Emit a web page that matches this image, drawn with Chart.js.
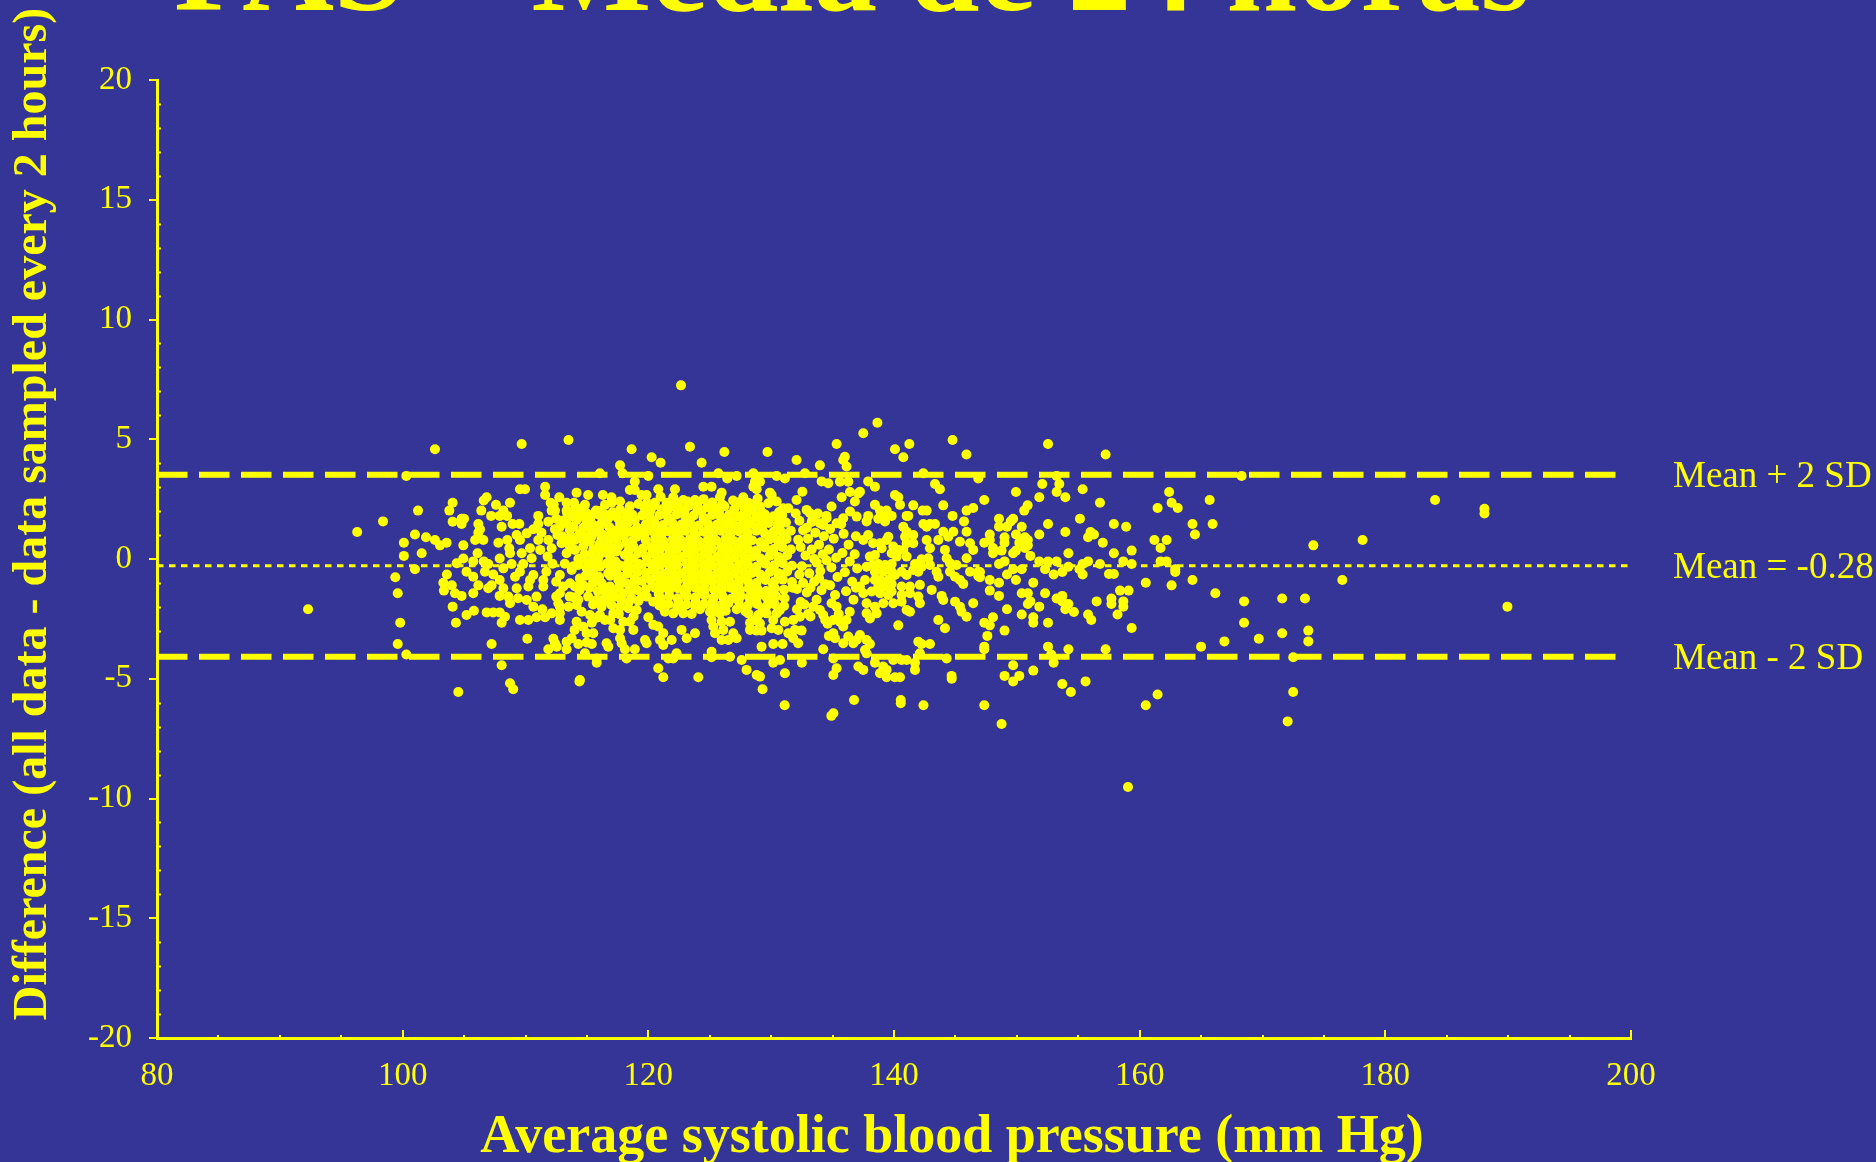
<!DOCTYPE html>
<html>
<head>
<meta charset="utf-8">
<title>PAS - Média de 24 horas</title>
<script src="https://cdn.jsdelivr.net/npm/chart.js@4.4.1/dist/chart.umd.min.js"></script>
<style>
  html, body { margin: 0; padding: 0; background: #353597; overflow: hidden; }
  #chart { display: block; }
</style>
</head>
<body>
<canvas id="chart" width="1876" height="1162"></canvas>
<script>
const YELLOW = '#ffff00';
const SERIF = '"Liberation Serif", "Times New Roman", serif';

const chartTitle = 'PAS – Média de 24 horas';
const xTitle = 'Average systolic blood pressure (mm Hg)';
const yTitle = 'Difference (all data - data sampled every 2 hours)';

const xRange = [80, 200];
const yRange = [-20, 20];
const meanDiff = -0.28;
const sdDiff = 1.9;

// points, [average, difference]
const leftTailPoints = [
  [92.3,-2.1],[96.3,1.13],[98.4,1.57],[100.3,3.47],[100.1,0.68],[101.0,1.02],[100.1,0.13],
  [99.4,-0.76],[99.6,-1.43],[99.8,-2.66],[99.6,-3.55],[100.3,-3.99],[101.0,-0.43],[101.25,2.02]
];

const strayPoints = [
  [122.66,7.25],[137.5,5.25],[138.65,5.69],
  [104.53,-5.55],[108.74,-5.19],[109.0,-5.44],[114.39,-5.11],[129.3,-5.44],[131.1,-6.11],
  [135.07,-6.44],[134.9,-6.55],[136.75,-5.89],[140.55,-5.89],[140.55,-6.02],[142.4,-6.11],
  [144.7,-5.0],[132.5,-4.33],[134.4,-2.55],[134.7,-3.21]
];

const clusterWestPoints = [
  [102.63,4.58],[109.69,4.8],[113.5,4.97],[118.64,4.58],[117.7,3.91],[117.9,3.58],[116.06,3.58],
  [118.9,3.23],[118.5,2.88],[118.9,2.88],[109.55,2.91],[109.96,2.91],[111.6,3.02],[111.6,2.67],
  [114.16,2.77],[115.1,2.67],[116.3,2.67],[117.0,2.58],[117.7,2.4],[112.75,2.58],[112.05,2.35],
  [113.35,2.35],[113.95,2.35],[106.84,2.58],[106.6,2.44],[104.07,2.35],[103.8,2.02],[107.6,2.26],
  [108.74,2.35],[108.2,2.02],[106.4,2.02],[107.2,1.8],[107.9,1.8],[108.5,1.8],[104.8,1.68],
  [105.0,1.68],[104.07,1.56],[104.8,1.46],[106.16,1.46],[106.3,1.24],[106.16,1.1],[108.06,1.35],
  [108.95,1.46],[109.5,1.46],[111.04,1.8],[111.04,1.46],[111.86,1.56],[112.5,1.68],[112.13,2.02],
  [112.4,2.02],[112.3,2.26],[113.35,2.02],[113.9,2.02],[114.84,2.26],[115.74,2.02],[116.47,2.26],
  [117.0,2.35],[117.7,2.05],[118.4,1.98],[114.98,1.91],[114.98,1.56],[114.16,1.63],[113.35,1.49],
  [112.8,1.35],[112.4,1.24],[116.74,1.7],[116.2,1.49],[115.52,1.42],[117.7,1.49],[118.4,1.56],
  [118.9,1.63],[101.9,0.91],[102.63,0.79],[103.04,0.57],[103.58,0.68],[101.55,0.24],[104.94,0.57],
  [105.9,0.79],[106.57,0.79],[107.79,0.68],[108.52,0.79],[106.1,0.24],[105.75,-0.1],[104.94,0.02],
  [104.4,-0.18],[106.6,-0.1],[106.97,-0.21],[107.9,0.02],[108.74,0.24],[108.68,0.45],[109.28,1.0],
  [109.55,0.79],[110.1,1.07],[110.64,1.24],[110.37,0.45],[111.04,0.79],[111.86,0.79],[111.2,0.38],
  [112.13,0.45],[112.94,0.66],[113.5,0.79],[109.69,0.24],[110.5,0.03],[109.82,-0.21],[108.87,-0.21],
  [108.2,-0.39],[103.6,-0.65],[103.31,-0.99],[104.0,-1.1],[104.26,-1.43],[104.8,-1.54],[103.36,-1.32],
  [105.2,-0.53],[105.75,-0.74],[106.7,-0.53],[106.16,-1.1],[107.38,-0.65],[107.24,-1.1],[107.9,-0.88],
  [108.2,-1.22],[106.97,-1.22],[105.75,-1.43],[107.9,-1.54],[108.6,-1.57],[108.74,-1.85],[109.4,-1.64],
  [109.28,-1.22],[110.23,-1.15],[110.37,-0.88],[110.64,-0.67],[111.45,-0.88],[111.45,-1.15],
  [109.55,-0.53],[109.15,-0.74],[104.07,-1.99],[105.2,-2.34],[105.8,-2.16],[106.84,-2.23],
  [107.38,-2.23],[107.9,-2.23],[108.06,-2.66],[108.33,-2.41],[104.34,-2.66],[109.55,-2.55],
  [110.23,-2.55],[110.9,-2.43],[111.6,-2.43],[112.13,-2.27],[112.8,-2.27],[112.8,-2.55],[111.37,-2.1],
  [110.64,-1.99],[110.1,-1.71],[110.9,-1.57],[107.24,-3.55],[110.15,-3.33],[108.06,-4.44],
  [112.27,-3.33],[112.4,-3.52],[111.86,-3.77],[112.54,-3.66],[113.35,-3.45],[113.76,-3.31],
  [113.35,-3.77],[114.3,-3.55],[114.98,-3.49],[115.4,-3.55],[114.16,-2.62],[114.7,-2.83],[115.4,-2.66],
  [114.0,-2.96],[114.98,-3.1],[115.52,-3.1],[115.8,-4.15],[115.8,-4.33],[114.84,-3.94],[114.43,-5.05],
  [116.6,-3.52],[116.74,-3.66],[117.7,-3.31],[117.83,-3.52],[118.1,-3.77],[118.9,-3.77],[117.7,-2.96],
  [117.15,-2.89],[116.47,-2.55],[117.15,-2.27],[117.96,-2.62],[118.5,-2.62],[118.78,-2.96],
  [118.23,-4.15],[112.8,-1.43],[112.5,-1.57],[112.67,-1.85],[112.8,-1.99],[113.6,-1.57],[113.5,-1.99],
  [114.16,-1.92],[111.7,-0.53],[112.8,-0.67],[112.5,-0.95],[113.08,-1.15],[113.62,-1.01],
  [114.03,-1.15],[114.43,-0.81],[113.76,-0.46],[114.3,-0.25],[114.98,-0.39],[114.57,-0.04],
  [115.52,-0.53],[116.06,-0.32],[116.74,-0.6],[113.35,0.24],[114.03,0.38],[114.7,0.52],[115.52,0.38],
  [116.2,0.24],[116.88,0.1],[117.42,0.31],[118.1,0.17],[118.78,0.03],[113.62,1.21],[114.43,1.07],
  [114.98,0.93],[115.66,1.14],[116.34,1.0],[117.0,1.21],[117.83,1.28],[118.5,1.14],[119.05,0.93],
  [114.03,0.79],[115.25,0.72],[116.06,0.66],[116.74,0.72],[117.42,0.79],[118.23,0.66],[118.78,0.52],
  [115.52,-0.88],[116.2,-1.01],[116.88,-1.15],[117.56,-0.88],[118.23,-1.01],[118.9,-0.81],
  [116.6,-1.43],[117.28,-1.57],[117.96,-1.43],[118.64,-1.64],[119.05,-1.29],[115.1,-1.57],
  [115.8,-1.71],[116.2,-1.99],[117.0,-1.92],[117.7,-1.99],[118.37,-2.06],[119.05,-2.13],
  [114.57,-2.2],[115.25,-2.34],[116.06,-2.34],
  [113.8,1.78],[114.5,1.8],[115.3,1.74],[116.0,1.84],[117.5,1.72],[118.2,1.8],[119.1,1.3],
  [118.0,0.95],[116.9,0.95],[115.9,0.48],[117.6,0.55],[118.6,0.5],[113.6,0.55],[114.3,0.0],
  [115.2,-0.15],[115.9,0.0],[116.6,-0.2],[117.3,-0.1],[118.0,-0.3],[118.7,-0.4],[119.2,-0.2],
  [117.4,-0.55],[118.3,-0.6],[119.1,-0.55],[114.4,-1.3],[115.2,-1.2],[115.9,-1.35],[117.6,-1.2],
  [118.9,-1.0],[116.3,-1.7],[117.8,-1.7],[113.9,-1.6],[119.2,-1.75],[113.2,-0.2],[112.2,-0.2],
  [111.8,0.1],[112.6,1.0],[111.3,1.1],[113.0,1.6],[118.5,2.2],[119.2,2.3],[116.0,2.0],[114.4,2.1],
  [113.4,1.9],[114.1,1.95],[115.6,1.9],[116.4,1.88],[117.1,1.95],[118.7,1.85],
  [113.9,1.35],[114.7,1.3],[115.3,1.28],[116.0,1.3],[116.8,1.35],[117.4,1.2],[118.2,1.4],[118.9,1.2],
  [113.0,0.95],[113.7,0.95],[114.6,0.85],[115.4,0.95],[116.2,0.85],[117.3,0.98],[118.7,0.75],
  [114.8,0.2],[115.4,0.2],[116.5,0.4],[117.0,0.45],[118.4,0.35],[119.2,0.25],
  [113.9,-0.3],[115.6,-0.2],[117.0,-0.35],[117.6,-0.25],[118.4,-0.15],
  [114.9,-0.7],[116.0,-0.75],[116.9,-0.7],[117.8,-0.75],[119.0,-0.9],
  [114.7,-1.1],[115.5,-1.0],[116.5,-1.2],[117.2,-1.3],[118.5,-1.3],
  [115.5,-1.9],[116.7,-1.75],[118.4,-1.8],[114.3,-1.7],
  [115.8,-2.45],[117.6,-2.3],[118.8,-2.4],[116.9,-2.55]
];

const clusterCentrePoints = [
  [123.39,4.69],[120.27,4.25],[121.0,4.02],[126.19,4.47],[129.7,4.47],[124.34,4.02],[132.07,4.13],
  [133.97,3.91],[135.33,4.8],[135.87,4.13],[136.0,4.27],[136.14,3.86],[120.0,3.47],[125.7,3.58],
  [126.43,3.36],[127.19,3.47],[128.55,3.58],[128.68,3.23],[129.09,3.23],[130.45,3.47],[131.12,3.36],
  [132.75,3.58],[134.11,3.24],[134.65,3.16],[135.6,3.23],[136.28,3.23],[124.48,3.02],[125.15,3.02],
  [125.97,2.77],[125.83,2.58],[128.55,3.02],[128.82,2.91],[129.9,2.77],[130.04,2.67],[132.54,2.81],
  [132.07,2.46],[135.74,2.58],[136.42,2.8],[136.82,2.4],[122.17,2.91],[120.81,2.91],[119.86,2.67],
  [119.45,2.67],[120.54,2.35],[121.49,2.35],[122.03,2.58],[122.85,2.46],[123.8,2.46],[127.73,2.58],
  [128.14,2.35],[127.6,2.35],[129.09,2.19],[129.77,2.33],[130.45,2.4],[130.99,2.12],[131.4,2.12],
  [132.89,2.05],[133.16,1.91],[133.43,1.7],[133.97,1.49],[134.24,1.42],[134.51,1.7],[134.92,2.19],
  [135.33,1.49],[135.87,1.7],[136.42,1.98],[136.96,1.77],[137.1,2.74],
  [120.0,-2.43],[120.4,-2.75],[120.8,-2.82],[119.73,-3.38],[119.86,-3.52],[120.95,-3.38],[121.22,-3.1],
  [121.9,-3.38],[121.22,-3.59],[121.35,-2.2],[122.03,-2.27],[122.85,-2.27],[123.53,-2.3],[122.71,-2.96],
  [123.12,-3.31],[123.8,-3.1],[122.3,-3.94],[122.03,-4.15],[121.63,-4.15],[120.81,-4.56],[121.22,-4.94],
  [124.07,-4.94],[125.15,-3.87],[125.15,-4.1],[125.02,-2.2],[125.56,-2.2],[125.15,-2.55],[125.29,-2.82],
  [125.97,-2.62],[125.43,-3.1],[126.1,-2.96],[126.65,-2.62],[126.92,-3.1],[127.19,-3.31],[126.51,-3.38],
  [125.97,-3.38],[125.83,-2.27],[126.51,-1.85],[127.46,-1.99],[126.65,-4.08],[127.6,-4.22],[128.0,-4.63],
  [128.82,-4.84],[129.09,-4.91],[128.28,-2.96],[128.82,-2.99],[129.22,-2.99],[128.28,-2.66],[128.68,-2.55],
  [129.09,-2.69],[128.14,-2.27],[128.95,-2.34],[129.63,-2.27],[130.17,-2.55],[130.45,-2.27],[130.04,-2.89],
  [130.58,-2.96],[130.17,-3.55],[130.93,-3.55],[129.22,-3.66],[130.72,-4.22],[130.17,-4.33],[131.12,-4.77],
  [131.4,-3.1],[131.8,-3.31],[132.2,-3.52],[131.94,-2.96],[132.48,-2.99],[131.12,-2.62],[131.8,-2.55],
  [132.34,-2.41],[134.24,-3.77],[133.43,-1.99],[133.97,-2.13],[134.24,-2.34],[134.92,-1.85],[135.33,-1.99],
  [135.06,-2.55],[135.6,-2.62],[135.87,-2.82],[136.14,-2.55],[136.28,-3.24],[135.87,-3.52],[136.69,-3.52],
  [136.96,-3.38],[135.06,-3.1],[135.2,-3.31],[135.06,-4.15],[135.33,-4.56],[135.06,-4.84],[137.1,-4.49],
  [120.4,-1.78],[119.86,-1.57],[120.68,-0.67],[121.08,-1.22],[121.63,-0.88],
  [132.3,1.6],[132.6,1.2],[133.0,0.85],[132.4,0.5],[132.8,0.15],[132.5,-0.3],[133.1,-0.6],[132.6,-1.0],
  [132.9,-1.4],[132.4,-1.8],[133.6,1.1],[133.9,0.6],[134.2,0.2],[133.7,-0.15],[134.0,-0.5],[133.5,-0.95],
  [134.1,-1.3],[133.7,-1.7],[134.8,1.25],[135.1,0.85],[134.7,0.4],[135.3,0.05],[134.9,-0.35],[135.4,-0.75],
  [134.8,-1.1],[135.2,-1.5],[135.9,1.05],[136.3,0.6],[135.8,0.25],[136.4,-0.1],[136.0,-0.55],[136.6,-0.95],
  [136.1,-1.35],[136.7,-1.7],[136.9,0.95],[136.8,0.2],[137.0,-0.4],[136.9,-1.2],[133.3,1.55],[134.5,1.8],
  [135.7,1.45],[133.2,-2.4],[134.6,-2.7],[136.4,-2.2],[132.1,-2.1],[135.5,-2.3],
  [132.0,1.9],[132.9,1.3],[133.3,0.4],[132.2,0.8],[133.5,0.0],[132.3,-0.65],[133.2,-1.2],[133.9,-0.8],
  [132.7,-1.9],[134.4,-1.05],[133.8,1.9],[134.3,0.95],[132.1,-1.25],[133.0,-2.3],[134.5,-0.05]
];

// the solid heart of the cloud, where single dots can no longer be told apart
const clusterHeartPoints = [
  [124.5,2.5],[126.9,2.44],[128.9,2.52],[123.2,2.4],[121.0,2.6],
  [119.9,2.34],[121.7,2.3],[122.4,2.36],[124.0,2.3],[125.2,2.36],[126.0,2.28],[127.3,2.36],[128.6,2.3],
  [119.7,2.12],[120.4,2.2],[121.1,2.08],[121.9,2.18],[122.6,2.1],[123.3,2.22],[124.0,2.06],[124.8,2.16],
  [125.5,2.1],[126.2,2.2],[127.0,2.08],[127.8,2.14],[128.5,2.04],
  [120.15,2.0],[121.55,2.02],[122.95,2.0],[124.35,2.02],[125.75,1.98],[127.85,1.96],[129.25,1.94],[130.65,1.96],
  [119.5,1.82],[120.1,1.76],[120.9,1.84],[121.6,1.74],[122.3,1.86],[123.0,1.78],[123.7,1.82],[124.5,1.72],
  [125.2,1.84],[125.9,1.76],[126.6,1.86],[127.3,1.78],[128.0,1.82],[128.8,1.74],[129.5,1.86],[130.2,1.78],
  [130.9,1.84],
  [120.35,1.6],[121.75,1.62],[123.15,1.6],[124.55,1.62],[126.65,1.6],[128.05,1.68],[129.45,1.64],[130.85,1.66],
  [119.8,1.45],[120.5,1.52],[121.2,1.42],[121.95,1.5],[122.7,1.44],[123.4,1.52],[124.1,1.4],[124.85,1.48],
  [125.6,1.44],[126.3,1.52],[127.0,1.42],[127.7,1.5],[128.4,1.46],[129.1,1.4],[129.8,1.5],[130.5,1.44],
  [131.2,1.52],
  [120.85,1.26],[122.25,1.28],[123.65,1.26],[125.05,1.28],[126.45,1.26],[127.85,1.34],[129.25,1.3],[130.65,1.32],
  [119.5,1.12],[120.2,1.18],[120.9,1.08],[121.6,1.16],[122.3,1.1],[123.0,1.18],[123.75,1.06],[124.5,1.14],
  [125.2,1.1],[125.9,1.18],[126.65,1.08],[127.35,1.16],[128.1,1.1],[128.8,1.18],[129.5,1.06],[130.2,1.14],
  [130.9,1.1],[131.6,1.18],
  [119.65,0.96],[121.05,0.98],[122.45,1.0],[123.85,0.96],[125.25,0.98],[126.65,0.96],[128.05,0.92],[130.15,0.98],
  [119.8,0.78],[120.55,0.84],[121.25,0.74],[122.0,0.82],[122.7,0.76],[123.4,0.84],[124.15,0.72],[124.85,0.8],
  [125.55,0.76],[126.3,0.84],[127.0,0.74],[127.7,0.82],[128.45,0.78],[129.15,0.7],[129.85,0.82],[130.55,0.76],
  [131.25,0.84],
  [120.85,0.58],[122.25,0.6],[123.65,0.58],[125.05,0.6],[126.45,0.58],[127.85,0.66],[129.25,0.62],[130.65,0.64],
  [119.55,0.44],[120.25,0.5],[120.95,0.4],[121.65,0.48],[122.35,0.42],[123.05,0.5],[123.8,0.38],[124.5,0.46],
  [125.2,0.42],[125.95,0.5],[126.65,0.4],[127.35,0.48],[128.1,0.44],[128.8,0.36],[129.5,0.48],[130.2,0.42],
  [130.9,0.5],[131.6,0.4],
  [120.35,0.24],[121.75,0.26],[123.15,0.24],[124.55,0.26],[125.95,0.24],[127.35,0.32],[128.75,0.28],[130.15,0.3],
  [119.85,0.1],[120.6,0.16],[121.3,0.06],[122.0,0.14],[122.7,0.08],[123.45,0.16],[124.15,0.04],[124.85,0.12],
  [125.6,0.08],[126.3,0.16],[127.0,0.06],[127.75,0.14],[128.45,0.1],[129.15,0.02],[129.9,0.14],[130.6,0.08],
  [131.3,0.16],
  [120.85,-0.1],[122.25,-0.08],[123.65,-0.1],[125.05,-0.08],[126.45,-0.1],[127.85,-0.02],[129.25,-0.06],[130.65,-0.04],
  [119.5,-0.24],[120.2,-0.18],[120.95,-0.28],[121.65,-0.2],[122.35,-0.26],[123.1,-0.18],[123.8,-0.3],
  [124.5,-0.22],[125.25,-0.26],[125.95,-0.18],[126.65,-0.28],[127.4,-0.2],[128.1,-0.24],[128.8,-0.32],
  [129.55,-0.2],[130.25,-0.26],[130.95,-0.18],[131.7,-0.28],
  [120.35,-0.44],[121.75,-0.42],[123.15,-0.44],[124.55,-0.42],[125.95,-0.44],[127.35,-0.36],[128.75,-0.4],[130.15,-0.38],
  [119.8,-0.58],[120.55,-0.52],[121.3,-0.62],[122.0,-0.54],[122.7,-0.6],[123.45,-0.52],[124.15,-0.64],
  [124.85,-0.56],[125.6,-0.6],[126.3,-0.52],[127.0,-0.62],[127.75,-0.54],[128.45,-0.58],[129.15,-0.66],
  [129.9,-0.54],[130.6,-0.6],[131.3,-0.52],
  [120.85,-0.78],[122.25,-0.76],[123.65,-0.78],[125.05,-0.76],[126.45,-0.78],[127.85,-0.7],[129.25,-0.74],[130.65,-0.72],
  [119.5,-0.92],[120.2,-0.86],[121.0,-0.96],[122.35,-0.94],[123.1,-0.86],[123.8,-0.98],[124.5,-0.9],
  [125.25,-0.94],[125.95,-0.86],[126.65,-0.96],[127.4,-0.88],[128.1,-0.92],[128.8,-1.0],[129.55,-0.88],
  [130.25,-0.94],[130.95,-0.86],[131.7,-0.96],
  [120.35,-1.12],[121.75,-1.1],[123.15,-1.12],[124.55,-1.1],[125.95,-1.12],[127.35,-1.04],[128.75,-1.08],[130.15,-1.06],
  [119.8,-1.26],[120.55,-1.2],[121.7,-1.3],[122.4,-1.22],[123.1,-1.28],[123.85,-1.2],[124.55,-1.32],
  [125.3,-1.24],[126.0,-1.28],[126.7,-1.2],[127.45,-1.3],[128.15,-1.22],[128.9,-1.26],[129.6,-1.34],
  [130.3,-1.22],[131.05,-1.28],[131.75,-1.2],
  [120.85,-1.46],[122.95,-1.38],[124.35,-1.42],[125.75,-1.4],[127.15,-1.42],[128.55,-1.46],[129.95,-1.44],
  [119.5,-1.56],[120.95,-1.62],[121.7,-1.54],[122.4,-1.64],[123.15,-1.56],[123.85,-1.6],[124.6,-1.52],
  [125.3,-1.62],[126.05,-1.56],[126.75,-1.66],[127.5,-1.54],[128.2,-1.6],[128.95,-1.52],[129.65,-1.62],
  [130.4,-1.56],[131.1,-1.64],
  [121.05,-1.8],[122.45,-1.78],[123.85,-1.8],[125.25,-1.78],[127.35,-1.74],[128.75,-1.72],[130.15,-1.76],
  [120.9,-1.94],[121.65,-1.88],[122.35,-1.98],[123.1,-1.9],[123.8,-1.96],[124.55,-1.88],[125.25,-2.0],
  [125.95,-1.92],[128.1,-1.94],[128.85,-1.88],[129.6,-1.98],[130.3,-1.9],[131.05,-1.96],
  [121.3,-2.1],[122.7,-2.14],[124.2,-2.1],[126.3,-2.16],[127.2,-2.1],[127.9,-2.18],[129.3,-2.12],[130.7,-2.14]
];

const clusterEastPoints = [
  [140.08,4.58],[140.76,4.25],[141.25,4.8],[144.77,4.97],[145.9,4.36],[142.39,3.58],[146.86,3.36],
  [137.9,3.24],[138.45,3.02],[143.34,3.13],[143.74,2.91],[140.08,2.67],[140.35,2.58],[137.23,2.81],
  [138.45,2.26],[138.86,2.02],[139.4,2.02],[139.27,1.8],[139.81,1.8],[139.27,1.57],[138.72,1.68],
  [137.9,1.8],[137.77,1.57],[140.49,2.26],[141.57,2.24],[141.03,1.8],[141.16,1.8],[142.33,2.02],
  [142.66,2.02],[144.01,2.24],[142.39,1.46],[142.93,1.46],[143.34,1.46],[142.66,1.35],[144.77,1.8],
  [145.7,1.57],[145.91,2.02],[146.45,2.13],[140.76,1.35],[141.03,1.14],[140.9,0.93],[141.57,1.0],
  [141.57,0.66],[141.03,0.66],[140.76,0.38],[139.54,0.93],[139.4,0.79],[138.86,0.66],[138.3,0.66],
  [137.9,1.0],[137.5,0.79],[139.0,0.45],[139.94,0.52],[140.35,0.38],[139.81,0.24],[138.04,0.1],
  [138.45,0.17],[142.66,0.79],[142.93,0.45],[143.61,0.79],[144.01,1.14],[144.42,0.93],[144.83,1.14],
  [145.37,0.72],[145.91,1.14],[146.19,0.66],[146.45,0.38],[144.15,0.38],[144.29,0.03],[142.79,0.03],
  [142.25,-0.01],[141.71,-0.21],[142.25,-0.32],[141.98,-0.53],[141.57,-0.46],[142.93,-0.25],
  [143.47,-0.53],[143.61,-0.74],[144.56,-0.18],[145.1,-0.25],[144.56,-0.53],[144.97,-0.74],
  [145.37,-0.88],[145.64,-1.04],[145.91,0.03],[146.19,-0.53],[146.86,-0.53],[146.86,-0.71],
  [141.03,0.1],[140.22,0.1],[139.81,-0.21],[139.27,-0.25],[138.72,-0.21],[138.3,-0.25],[137.77,-0.32],
  [138.45,-0.53],[139.13,-0.53],[139.81,-0.53],[140.08,-0.67],[140.62,-0.53],[141.03,-0.67],
  [137.64,-0.88],[137.23,-1.15],[137.5,-1.43],[138.45,-0.88],[138.86,-0.88],[139.54,-0.88],
  [139.81,-1.04],[139.27,-1.15],[138.72,-1.15],[138.18,-1.36],[138.86,-1.43],[139.54,-1.5],
  [139.81,-1.36],[140.62,-1.15],[141.3,-1.15],[142.11,-1.08],[140.62,-1.5],[141.3,-1.43],
  [141.98,-1.57],[143.07,-1.29],[137.77,-1.85],[138.45,-1.99],[139.13,-1.85],[139.94,-1.85],
  [140.62,-1.78],[141.03,-2.13],[141.3,-2.2],[137.77,-2.27],[138.59,-2.27],[138.04,-2.48],
  [142.11,-1.85],[143.88,-1.54],[144.01,-1.71],[144.97,-1.78],[145.37,-1.99],[145.5,-2.2],
  [145.91,-2.41],[146.45,-1.85],[140.35,-2.77],[143.61,-2.55],[144.15,-2.89],[137.77,-3.38],
  [138.04,-3.55],[137.64,-3.8],[137.77,-3.94],[137.23,-3.17],[141.98,-3.45],[142.25,-3.55],
  [142.93,-3.55],[142.11,-3.94],[138.45,-4.33],[139.13,-4.49],[139.4,-4.63],[138.86,-4.77],
  [139.94,-4.22],[140.62,-4.22],[141.03,-4.22],[141.71,-4.33],[141.71,-4.63],[140.08,-4.94],
  [140.49,-4.94],[139.4,-4.94],[144.69,-4.88],[144.29,-4.15],[137.5,-4.63]
];

const rightTailPoints = [
  [152.54,4.8],[157.23,4.36],[168.3,3.47],[153.24,3.47],[153.46,3.13],[153.24,2.8],[153.95,2.58],
  [152.07,3.13],[151.83,2.58],[155.36,2.91],[156.77,2.35],[149.93,2.8],[150.88,2.24],[150.6,2.02],
  [147.35,2.46],[162.4,2.8],[162.6,2.35],[163.1,2.13],[161.46,2.13],[165.7,2.46],[164.3,1.46],
  [164.5,1.02],[165.94,1.46],[157.9,1.46],[158.9,1.35],[155.14,1.68],[152.54,1.46],[153.95,1.13],
  [151.83,1.02],[155.8,0.91],[156.28,1.02],[156.0,1.13],[157.0,0.68],[157.9,0.24],[159.35,0.35],
  [158.67,-0.1],[159.35,-0.21],[161.2,0.79],[162.2,0.79],[161.7,0.46],[161.7,-0.1],[162.2,-0.1],
  [162.9,-0.43],[162.9,-0.54],[160.5,-0.99],[162.6,-1.1],[164.3,-0.88],[174.14,0.57],[178.15,0.79],
  [176.5,-0.88],[166.16,-1.43],[168.5,-1.77],[168.5,-2.66],[171.6,-1.65],[173.46,-1.65],[171.6,-3.1],
  [173.73,-2.99],[173.73,-3.44],[169.7,-3.33],[166.9,-3.44],[165.0,-3.66],[172.5,-4.1],[172.5,-5.55],
  [172.05,-6.78],[161.46,-5.66],[160.5,-6.11],[155.6,-5.11],[154.4,-5.55],[153.7,-5.22],[151.34,-4.66],
  [150.2,-4.88],[149.7,-5.11],[149.0,-4.88],[149.7,-4.44],[147.35,-6.11],[148.76,-6.89],[152.54,-3.66],
  [152.8,-3.99],[153.0,-4.33],[154.2,-3.77],[157.23,-3.77],[159.35,-2.88],[158.2,-2.32],[158.67,-1.99],
  [158.67,-1.77],[158.4,-1.32],[159.1,-1.32],[157.7,-1.65],[157.7,-1.88],[157.5,-0.63],[157.9,-0.63],
  [156.5,-1.77],[155.8,-2.32],[156.06,-2.55],[154.65,-2.21],[153.95,-2.1],[154.2,-1.88],[153.7,-1.54],
  [153.24,-1.65],[153.7,-1.77],[152.3,-1.43],[151.83,-1.99],[152.54,-2.66],[151.34,-2.43],[151.34,-2.66],
  [150.4,-2.32],[149.2,-2.1],[149.0,-2.99],[147.6,-3.21],[147.35,-3.66],[147.35,-3.77],[148.06,-2.43],
  [147.35,-2.66],[147.8,-2.77],[150.4,-1.43],[150.9,-1.43],[151.1,-1.77],[150.9,-1.88],[148.55,-1.54],
  [147.8,-1.32],[147.8,-0.88],[148.55,-0.99],[149.93,-0.88],[151.34,-0.99],[153.0,-0.65],[153.7,-0.54],
  [152.3,-0.43],[150.4,-0.43],[149.7,-0.43],[149.2,-0.65],[151.83,-0.1],[152.54,-0.1],[153.24,-0.1],
  [154.2,-0.32],[155.1,-0.43],[155.36,-0.65],[155.36,-0.21],[155.8,-0.1],[156.77,-0.21],[154.2,0.24],
  [151.1,0.13],[148.76,0.35],[149.0,-0.1],[148.55,-0.21],[148.06,0.46],[148.06,0.24],[147.35,0.68],
  [147.8,1.02],[147.8,0.79],[148.55,1.68],[148.55,1.35],[149.2,1.35],[149.5,1.57],[149.7,1.68],
  [150.4,1.35],[149.93,1.02],[150.66,0.91],[150.9,0.79],[150.2,0.68],[149.0,0.68],[149.0,0.91],
  [150.9,0.57],[150.66,0.46],[149.93,0.35],[149.7,0.24],[147.0,-0.54],[147.0,-0.76],
  [184.05,2.46],[188.07,1.9],[188.07,2.1],[189.94,-1.99],[159.05,-9.52]
];

const allPoints = [
  ...leftTailPoints, ...clusterWestPoints, ...clusterCentrePoints, ...clusterHeartPoints,
  ...clusterEastPoints, ...rightTailPoints, ...strayPoints
].map(([x, y]) => ({ x, y }));

const upperLimit = +(meanDiff + 2 * sdDiff).toFixed(2);
const lowerLimit = +(meanDiff - 2 * sdDiff).toFixed(2);

const limitLabels = [
  { value: upperLimit, text: 'Mean + 2 SD' },
  { value: meanDiff, text: `Mean = ${meanDiff}` },
  { value: lowerLimit, text: 'Mean - 2 SD' },
];

const decorations = {
  id: 'decorations',
  afterDraw(chart) {
    const { ctx, scales: { x, y } } = chart;
    ctx.save();
    ctx.fillStyle = YELLOW;
    ctx.strokeStyle = YELLOW;

    // main title, mostly above the page edge
    ctx.font = `bold 127px ${SERIF}`;
    ctx.textAlign = 'left';
    ctx.textBaseline = 'alphabetic';
    ctx.fillText(chartTitle, 174, 10);

    // x axis title
    ctx.font = `bold 54px ${SERIF}`;
    ctx.textAlign = 'center';
    ctx.fillText(xTitle, 952, 1152);

    // y axis title
    ctx.save();
    ctx.translate(34, 514);
    ctx.rotate(-Math.PI / 2);
    ctx.font = `bold 48px ${SERIF}`;
    ctx.textBaseline = 'middle';
    ctx.fillText(yTitle, 0, 0);
    ctx.restore();

    // labels for the limit lines
    ctx.font = `37px ${SERIF}`;
    ctx.textAlign = 'left';
    ctx.textBaseline = 'alphabetic';
    limitLabels.forEach(({ value, text }) => {
      ctx.fillText(text, 1673, y.getPixelForValue(value) + 12.5);
    });

    // inward ticks
    ctx.lineWidth = 2;
    ctx.beginPath();
    for (let v = yRange[0] + 1; v < yRange[1]; v++) {
      if (v % 5 === 0) continue;
      const py = Math.round(y.getPixelForValue(v)) + 0.5;
      ctx.moveTo(x.left, py);
      ctx.lineTo(x.left + 4, py);
    }
    for (let v = xRange[0] + 5; v <= xRange[1]; v += 5) {
      const px = Math.round(x.getPixelForValue(v));
      const len = v % 20 === 0 ? 8 : 3;
      ctx.moveTo(px, y.bottom);
      ctx.lineTo(px, y.bottom - len);
    }
    ctx.stroke();
    ctx.restore();
  }
};

const limitLine = (value, dash, width, xEnd) => ({
  type: 'scatter',
  data: [{ x: xRange[0], y: value }, { x: xEnd, y: value }],
  showLine: true,
  borderColor: YELLOW,
  borderWidth: width,
  borderDash: dash,
  pointRadius: 0,
  order: 2,
});

new Chart(document.getElementById('chart'), {
  type: 'scatter',
  plugins: [decorations],
  data: {
    datasets: [
      {
        data: allPoints,
        pointRadius: 5,
        pointBackgroundColor: YELLOW,
        pointBorderWidth: 0,
        order: 0,
      },
      limitLine(upperLimit, [30.5, 11.5], 6, 199.1),
      limitLine(lowerLimit, [30.5, 11.5], 6, 199.1),
      limitLine(meanDiff, [6.5, 5.5], 3, 199.8),
    ],
  },
  options: {
    responsive: false,
    devicePixelRatio: 1,
    animation: false,
    events: [],
    layout: { padding: { top: 80, right: 245, left: 0, bottom: 0 } },
    plugins: {
      legend: { display: false },
      tooltip: { enabled: false },
    },
    scales: {
      x: {
        type: 'linear',
        min: xRange[0],
        max: xRange[1],
        afterFit: (scale) => { scale.height = 124; },
        grid: { display: false },
        border: { display: true, color: YELLOW, width: 3 },
        ticks: {
          stepSize: 20,
          autoSkip: false,
          maxRotation: 0,
          padding: 11,
          color: YELLOW,
          font: { family: SERIF, size: 33 },
        },
      },
      y: {
        type: 'linear',
        min: yRange[0],
        max: yRange[1],
        afterFit: (scale) => { scale.width = 157; },
        grid: {
          drawOnChartArea: false,
          drawTicks: true,
          tickLength: 8,
          color: YELLOW,
          lineWidth: 2,
        },
        border: { display: true, color: YELLOW, width: 3 },
        ticks: {
          stepSize: 5,
          padding: 17,
          color: YELLOW,
          font: { family: SERIF, size: 33 },
        },
      },
    },
  },
});
</script>
</body>
</html>
